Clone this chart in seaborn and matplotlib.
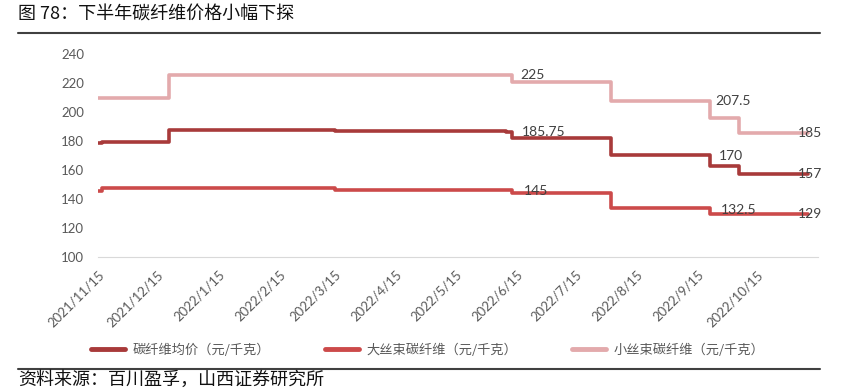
import pandas as pd
import matplotlib.pyplot as plt
import seaborn as sns

# 价格变动点（元/千克）
avg_dates = ["2021-11-15", "2021-11-17", "2021-12-21", "2022-03-15", "2022-06-10",
             "2022-06-13", "2022-08-02", "2022-09-21", "2022-10-06", "2022-11-10"]
avg_vals = [178.5, 179.5, 187.5, 187, 186.5, 182, 170.5, 162.5, 157.5, 157.5]

big_dates = ["2021-11-15", "2021-11-17", "2022-03-15", "2022-06-13",
             "2022-08-02", "2022-09-21", "2022-11-10"]
big_vals = [145.5, 148, 146, 144, 133.7, 130, 130]

small_dates = ["2021-11-15", "2021-12-21", "2022-06-13", "2022-08-02",
               "2022-09-21", "2022-10-06", "2022-11-10"]
small_vals = [210, 225.5, 221, 207.8, 196, 185.6, 185.6]

series_names = ["碳纤维均价（元/千克）", "大丝束碳纤维（元/千克）", "小丝束碳纤维（元/千克）"]
colors = ["#A83A3A", "#CC4A4A", "#E3AAAC"]

# 数据标签
lbl_text = ["225", "185.75", "145", "207.5", "170", "132.5", "185", "157", "129"]
lbl_dates = ["2022-06-23", "2022-06-29", "2022-06-25", "2022-10-03", "2022-10-02",
             "2022-10-06", "2022-11-11", "2022-11-11", "2022-11-11"]
lbl_vals = [225.5, 186.1, 145.7, 207.9, 170, 132.6, 185.4, 157.2, 129.6]

frames = []
for name, d, v in zip(series_names, [avg_dates, big_dates, small_dates],
                      [avg_vals, big_vals, small_vals]):
    frames.append(pd.DataFrame({"date": pd.to_datetime(d), "price": v, "series": name}))
df = pd.concat(frames, ignore_index=True)

sns.set_style("white")
plt.rcParams["font.family"] = ["Noto Sans CJK SC", "DejaVu Sans"]

fig = plt.figure(figsize=(8.64, 3.89), dpi=100)
ax = fig.add_axes([0.1134, 0.339, 0.8334, 0.522])

sns.lineplot(data=df, x="date", y="price", hue="series", palette=colors,
             hue_order=series_names, drawstyle="steps-post", linewidth=2.6,
             ax=ax, legend=True)

for t, d, v in zip(lbl_text, lbl_dates, lbl_vals):
    ax.text(pd.Timestamp(d), v, t, ha="center", va="center", fontsize=10,
            color="#404040", family=["Lato", "DejaVu Sans"])

ax.set_ylim(100, 240)
ax.set_yticks(range(100, 241, 20))
ax.set_xlim(pd.Timestamp("2021-11-15"), pd.Timestamp("2022-11-15"))
ticks = pd.date_range("2021-11-01", "2022-11-01", freq="MS") + pd.Timedelta(days=14)
ax.set_xticks(ticks)
labels = [f"{t.year}/{t.month}/{t.day}" for t in ticks]
labels[-1] = ""
ax.set_xticklabels(labels, rotation=45, ha="right", rotation_mode="anchor")
ax.set_xlabel("")
ax.set_ylabel("")

for s in ["top", "right", "left"]:
    ax.spines[s].set_visible(False)
ax.spines["bottom"].set_color("#D9D9D9")
ax.tick_params(axis="x", length=5, color="#D9D9D9", colors="#595959", labelsize=9.5, pad=3)
ax.tick_params(axis="y", length=0, colors="#595959", labelsize=9.5, pad=10)
for lab in ax.get_xticklabels() + ax.get_yticklabels():
    lab.set_family(["Lato", "DejaVu Sans"])

handles, names = ax.get_legend_handles_labels()
ax.get_legend().remove()
leg = fig.legend(handles, names, loc="center", bbox_to_anchor=(0.495, 0.1), ncol=3,
                 frameon=False, fontsize=9.5, handlelength=2.6, handletextpad=0.6,
                 columnspacing=4.1)
for h in leg.get_lines():
    h.set_linewidth(3.5)
for t in leg.get_texts():
    t.set_color("#595959")

fig.text(0.021, 0.962, "图 78：下半年碳纤维价格小幅下探", fontsize=13, va="center", color="#111111")
fig.add_artist(plt.Line2D([0.021, 0.949], [0.915, 0.915], color="#404040", lw=1.5))
fig.add_artist(plt.Line2D([0.021, 0.949], [0.051, 0.051], color="#404040", lw=1.5))
fig.text(0.021, 0.024, "资料来源：百川盈孚，山西证券研究所", fontsize=13, va="center", color="#111111")

fig.savefig("out.png", dpi=100)
